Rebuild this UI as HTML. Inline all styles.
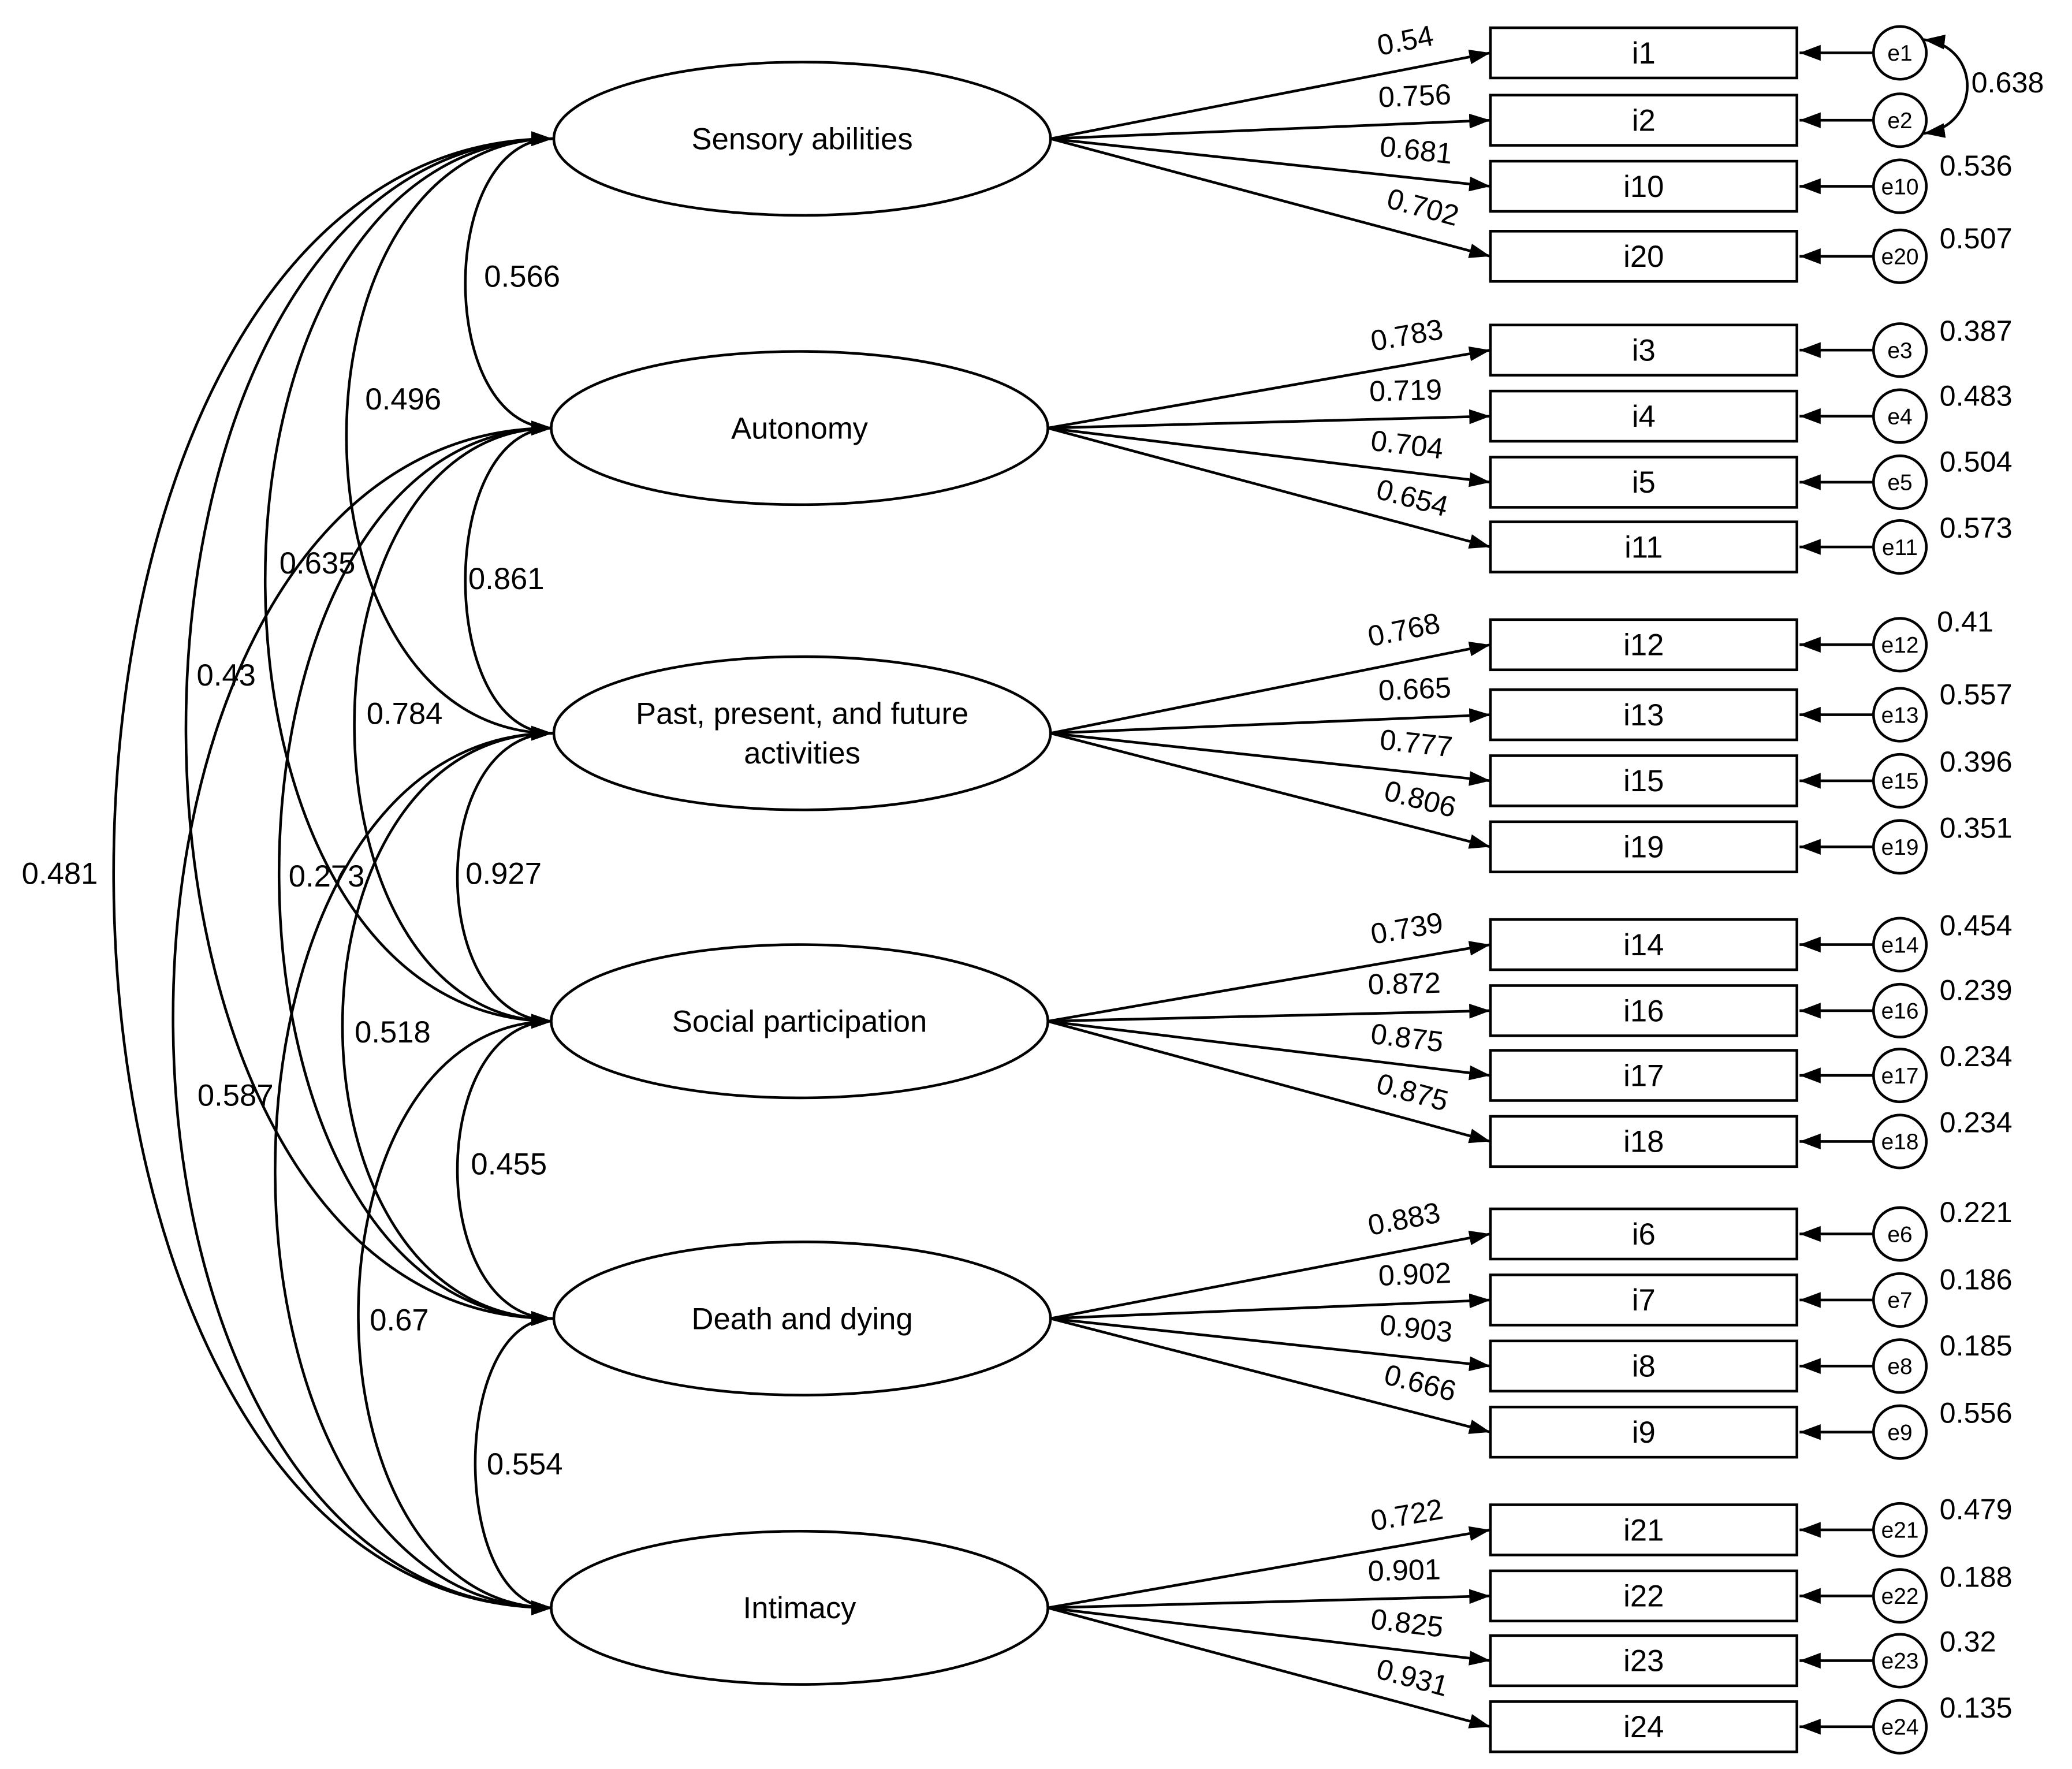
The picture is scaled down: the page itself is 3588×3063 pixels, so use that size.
<!DOCTYPE html>
<html><head><meta charset="utf-8"><style>html,body{margin:0;padding:0;background:#fff}svg{display:block}</style></head>
<body>
<svg xmlns="http://www.w3.org/2000/svg" width="3588" height="3063" viewBox="0 0 1568 1339" font-family="Liberation Sans, sans-serif">
<defs>
<marker id="b" viewBox="0 0 10 10" refX="10" refY="5" markerWidth="16" markerHeight="16" markerUnits="userSpaceOnUse" orient="auto-start-reverse"><path d="M0,1.5 L10,5 L0,8.5 z" fill="#000"/></marker>
</defs>
<rect width="1568" height="1339" fill="#fff"/>
<g fill="none" stroke="#000" stroke-width="2">
<path d="M418,105 C330,105 330,324 418,324" marker-start="url(#b)" marker-end="url(#b)"/>
<path d="M418,324 C330,324 330,555 418,555" marker-start="url(#b)" marker-end="url(#b)"/>
<path d="M418,555 C322,555 322,773 418,773" marker-start="url(#b)" marker-end="url(#b)"/>
<path d="M418,773 C322,773 322,998 418,998" marker-start="url(#b)" marker-end="url(#b)"/>
<path d="M418,998 C340,998 340,1217 418,1217" marker-start="url(#b)" marker-end="url(#b)"/>
<path d="M418,105 C210,105 210,555 418,555" marker-start="url(#b)" marker-end="url(#b)"/>
<path d="M418,324 C218,324 218,773 418,773" marker-start="url(#b)" marker-end="url(#b)"/>
<path d="M418,555 C206,555 206,998 418,998" marker-start="url(#b)" marker-end="url(#b)"/>
<path d="M418,773 C222,773 222,1217 418,1217" marker-start="url(#b)" marker-end="url(#b)"/>
<path d="M418,105 C128,105 128,773 418,773" marker-start="url(#b)" marker-end="url(#b)"/>
<path d="M418,324 C142,324 142,998 418,998" marker-start="url(#b)" marker-end="url(#b)"/>
<path d="M418,555 C138,555 138,1217 418,1217" marker-start="url(#b)" marker-end="url(#b)"/>
<path d="M418,105 C48,105 48,998 418,998" marker-start="url(#b)" marker-end="url(#b)"/>
<path d="M418,324 C35,324 35,1217 418,1217" marker-start="url(#b)" marker-end="url(#b)"/>
<path d="M418,105 C-25,105 -25,1217 418,1217" marker-start="url(#b)" marker-end="url(#b)"/>
<ellipse cx="607" cy="105" rx="188" ry="58" fill="#fff"/>
<ellipse cx="605" cy="324" rx="188" ry="58" fill="#fff"/>
<ellipse cx="607" cy="555" rx="188" ry="58" fill="#fff"/>
<ellipse cx="605" cy="773" rx="188" ry="58" fill="#fff"/>
<ellipse cx="607" cy="998" rx="188" ry="58" fill="#fff"/>
<ellipse cx="605" cy="1217" rx="188" ry="58" fill="#fff"/>
</g>
<g stroke="#000" stroke-width="2" marker-end="url(#b)">
<line x1="795" y1="105" x2="1128" y2="40"/><line x1="795" y1="105" x2="1128" y2="91"/><line x1="795" y1="105" x2="1128" y2="141"/><line x1="795" y1="105" x2="1128" y2="194"/>
<line x1="793" y1="324" x2="1128" y2="265"/><line x1="793" y1="324" x2="1128" y2="315"/><line x1="793" y1="324" x2="1128" y2="365"/><line x1="793" y1="324" x2="1128" y2="414"/>
<line x1="795" y1="555" x2="1128" y2="488"/><line x1="795" y1="555" x2="1128" y2="541"/><line x1="795" y1="555" x2="1128" y2="591"/><line x1="795" y1="555" x2="1128" y2="641"/>
<line x1="793" y1="773" x2="1128" y2="715"/><line x1="793" y1="773" x2="1128" y2="765"/><line x1="793" y1="773" x2="1128" y2="814"/><line x1="793" y1="773" x2="1128" y2="864"/>
<line x1="795" y1="998" x2="1128" y2="934"/><line x1="795" y1="998" x2="1128" y2="984"/><line x1="795" y1="998" x2="1128" y2="1034"/><line x1="795" y1="998" x2="1128" y2="1084"/>
<line x1="793" y1="1217" x2="1128" y2="1158"/><line x1="793" y1="1217" x2="1128" y2="1208"/><line x1="793" y1="1217" x2="1128" y2="1257"/><line x1="793" y1="1217" x2="1128" y2="1307"/>
</g>
<g fill="#fff" stroke="#000" stroke-width="2">
<rect x="1128" y="21" width="232" height="38"/><rect x="1128" y="72" width="232" height="38"/><rect x="1128" y="122" width="232" height="38"/><rect x="1128" y="175" width="232" height="38"/>
<rect x="1128" y="246" width="232" height="38"/><rect x="1128" y="296" width="232" height="38"/><rect x="1128" y="346" width="232" height="38"/><rect x="1128" y="395" width="232" height="38"/>
<rect x="1128" y="469" width="232" height="38"/><rect x="1128" y="522" width="232" height="38"/><rect x="1128" y="572" width="232" height="38"/><rect x="1128" y="622" width="232" height="38"/>
<rect x="1128" y="696" width="232" height="38"/><rect x="1128" y="746" width="232" height="38"/><rect x="1128" y="795" width="232" height="38"/><rect x="1128" y="845" width="232" height="38"/>
<rect x="1128" y="915" width="232" height="38"/><rect x="1128" y="965" width="232" height="38"/><rect x="1128" y="1015" width="232" height="38"/><rect x="1128" y="1065" width="232" height="38"/>
<rect x="1128" y="1139" width="232" height="38"/><rect x="1128" y="1189" width="232" height="38"/><rect x="1128" y="1238" width="232" height="38"/><rect x="1128" y="1288" width="232" height="38"/>
<path fill="none" d="M1418,40H1362 M1418,91H1362 M1418,141H1362 M1418,194H1362 M1418,265H1362 M1418,315H1362 M1418,365H1362 M1418,414H1362 M1418,488H1362 M1418,541H1362 M1418,591H1362 M1418,641H1362 M1418,715H1362 M1418,765H1362 M1418,814H1362 M1418,864H1362 M1418,934H1362 M1418,984H1362 M1418,1034H1362 M1418,1084H1362 M1418,1158H1362 M1418,1208H1362 M1418,1257H1362 M1418,1307H1362"/>
</g>
<path fill="#000" d="M1362,40 l16,-6 v12z M1362,91 l16,-6 v12z M1362,141 l16,-6 v12z M1362,194 l16,-6 v12z M1362,265 l16,-6 v12z M1362,315 l16,-6 v12z M1362,365 l16,-6 v12z M1362,414 l16,-6 v12z M1362,488 l16,-6 v12z M1362,541 l16,-6 v12z M1362,591 l16,-6 v12z M1362,641 l16,-6 v12z M1362,715 l16,-6 v12z M1362,765 l16,-6 v12z M1362,814 l16,-6 v12z M1362,864 l16,-6 v12z M1362,934 l16,-6 v12z M1362,984 l16,-6 v12z M1362,1034 l16,-6 v12z M1362,1084 l16,-6 v12z M1362,1158 l16,-6 v12z M1362,1208 l16,-6 v12z M1362,1257 l16,-6 v12z M1362,1307 l16,-6 v12z"/>
<g fill="#fff" stroke="#000" stroke-width="2">
<circle cx="1438" cy="40" r="20"/><circle cx="1438" cy="91" r="20"/><circle cx="1438" cy="141" r="20"/><circle cx="1438" cy="194" r="20"/>
<circle cx="1438" cy="265" r="20"/><circle cx="1438" cy="315" r="20"/><circle cx="1438" cy="365" r="20"/><circle cx="1438" cy="414" r="20"/>
<circle cx="1438" cy="488" r="20"/><circle cx="1438" cy="541" r="20"/><circle cx="1438" cy="591" r="20"/><circle cx="1438" cy="641" r="20"/>
<circle cx="1438" cy="715" r="20"/><circle cx="1438" cy="765" r="20"/><circle cx="1438" cy="814" r="20"/><circle cx="1438" cy="864" r="20"/>
<circle cx="1438" cy="934" r="20"/><circle cx="1438" cy="984" r="20"/><circle cx="1438" cy="1034" r="20"/><circle cx="1438" cy="1084" r="20"/>
<circle cx="1438" cy="1158" r="20"/><circle cx="1438" cy="1208" r="20"/><circle cx="1438" cy="1257" r="20"/><circle cx="1438" cy="1307" r="20"/>
<path d="M1456,30 C1500,35 1500,95 1456,101" fill="none" marker-start="url(#b)" marker-end="url(#b)"/>
</g>
<g font-size="23" text-anchor="middle" fill="#000">
<text x="607" y="113">Sensory abilities</text>
<text x="605" y="332">Autonomy</text>
<text x="607" y="548">Past, present, and future</text>
<text x="607" y="578">activities</text>
<text x="605" y="781">Social participation</text>
<text x="607" y="1006">Death and dying</text>
<text x="605" y="1225">Intimacy</text>
</g>
<g font-size="23" text-anchor="middle">
<text x="1244" y="48">i1</text><text x="1244" y="99">i2</text><text x="1244" y="149">i10</text><text x="1244" y="202">i20</text>
<text x="1244" y="273">i3</text><text x="1244" y="323">i4</text><text x="1244" y="373">i5</text><text x="1244" y="422">i11</text>
<text x="1244" y="496">i12</text><text x="1244" y="549">i13</text><text x="1244" y="599">i15</text><text x="1244" y="649">i19</text>
<text x="1244" y="723">i14</text><text x="1244" y="773">i16</text><text x="1244" y="822">i17</text><text x="1244" y="872">i18</text>
<text x="1244" y="942">i6</text><text x="1244" y="992">i7</text><text x="1244" y="1042">i8</text><text x="1244" y="1092">i9</text>
<text x="1244" y="1166">i21</text><text x="1244" y="1216">i22</text><text x="1244" y="1265">i23</text><text x="1244" y="1315">i24</text>
</g>
<g font-size="17" text-anchor="middle">
<text x="1438" y="46">e1</text><text x="1438" y="97">e2</text><text x="1438" y="147">e10</text><text x="1438" y="200">e20</text>
<text x="1438" y="271">e3</text><text x="1438" y="321">e4</text><text x="1438" y="371">e5</text><text x="1438" y="420">e11</text>
<text x="1438" y="494">e12</text><text x="1438" y="547">e13</text><text x="1438" y="597">e15</text><text x="1438" y="647">e19</text>
<text x="1438" y="721">e14</text><text x="1438" y="771">e16</text><text x="1438" y="820">e17</text><text x="1438" y="870">e18</text>
<text x="1438" y="940">e6</text><text x="1438" y="990">e7</text><text x="1438" y="1040">e8</text><text x="1438" y="1090">e9</text>
<text x="1438" y="1164">e21</text><text x="1438" y="1214">e22</text><text x="1438" y="1263">e23</text><text x="1438" y="1313">e24</text>
</g>
<g font-size="22">
<text x="1492" y="70">0.638</text>
<text x="1468" y="133">0.536</text><text x="1468" y="188">0.507</text>
<text x="1468" y="258">0.387</text><text x="1468" y="307">0.483</text><text x="1468" y="357">0.504</text><text x="1468" y="407">0.573</text>
<text x="1466" y="478">0.41</text><text x="1468" y="533">0.557</text><text x="1468" y="584">0.396</text><text x="1468" y="634">0.351</text>
<text x="1468" y="708">0.454</text><text x="1468" y="757">0.239</text><text x="1468" y="807">0.234</text><text x="1468" y="857">0.234</text>
<text x="1468" y="925">0.221</text><text x="1468" y="976">0.186</text><text x="1468" y="1026">0.185</text><text x="1468" y="1077">0.556</text>
<text x="1468" y="1150">0.479</text><text x="1468" y="1201">0.188</text><text x="1468" y="1250">0.32</text><text x="1468" y="1300">0.135</text>
</g>
<g font-size="22" text-anchor="middle">
<text transform="translate(1065,38) rotate(-11)">0.54</text>
<text transform="translate(1071,80) rotate(-2.4)">0.756</text>
<text transform="translate(1071,121) rotate(6.2)">0.681</text>
<text transform="translate(1075,164) rotate(15)">0.702</text>
<text transform="translate(1066,261) rotate(-10)">0.783</text>
<text transform="translate(1064,303) rotate(-1.5)">0.719</text>
<text transform="translate(1064,344) rotate(7)">0.704</text>
<text transform="translate(1067,384) rotate(15)">0.654</text>
<text transform="translate(1064,484) rotate(-11.4)">0.768</text>
<text transform="translate(1071,529) rotate(-2.4)">0.665</text>
<text transform="translate(1071,570) rotate(6.2)">0.777</text>
<text transform="translate(1073,612) rotate(14.5)">0.806</text>
<text transform="translate(1066,710) rotate(-9.9)">0.739</text>
<text transform="translate(1063,752) rotate(-1.4)">0.872</text>
<text transform="translate(1064,793) rotate(7)">0.875</text>
<text transform="translate(1067,834) rotate(15.3)">0.875</text>
<text transform="translate(1064,930) rotate(-10.9)">0.883</text>
<text transform="translate(1071,972) rotate(-2.4)">0.902</text>
<text transform="translate(1071,1013) rotate(6.2)">0.903</text>
<text transform="translate(1073,1054) rotate(14.5)">0.666</text>
<text transform="translate(1066,1154) rotate(-10)">0.722</text>
<text transform="translate(1063,1196) rotate(-1.5)">0.901</text>
<text transform="translate(1064,1236) rotate(6.8)">0.825</text>
<text transform="translate(1067,1277) rotate(15.1)">0.931</text>
</g>
<g font-size="23" text-anchor="middle">
<text x="395" y="217">0.566</text>
<text x="305" y="310">0.496</text>
<text x="383" y="446">0.861</text>
<text x="240" y="434">0.635</text>
<text x="171" y="519">0.43</text>
<text x="306" y="548">0.784</text>
<text x="45" y="669">0.481</text>
<text x="247" y="671">0.273</text>
<text x="381" y="669">0.927</text>
<text x="297" y="789">0.518</text>
<text x="178" y="837">0.587</text>
<text x="385" y="889">0.455</text>
<text x="302" y="1007">0.67</text>
<text x="397" y="1116">0.554</text>
</g>
</svg>
</body></html>
